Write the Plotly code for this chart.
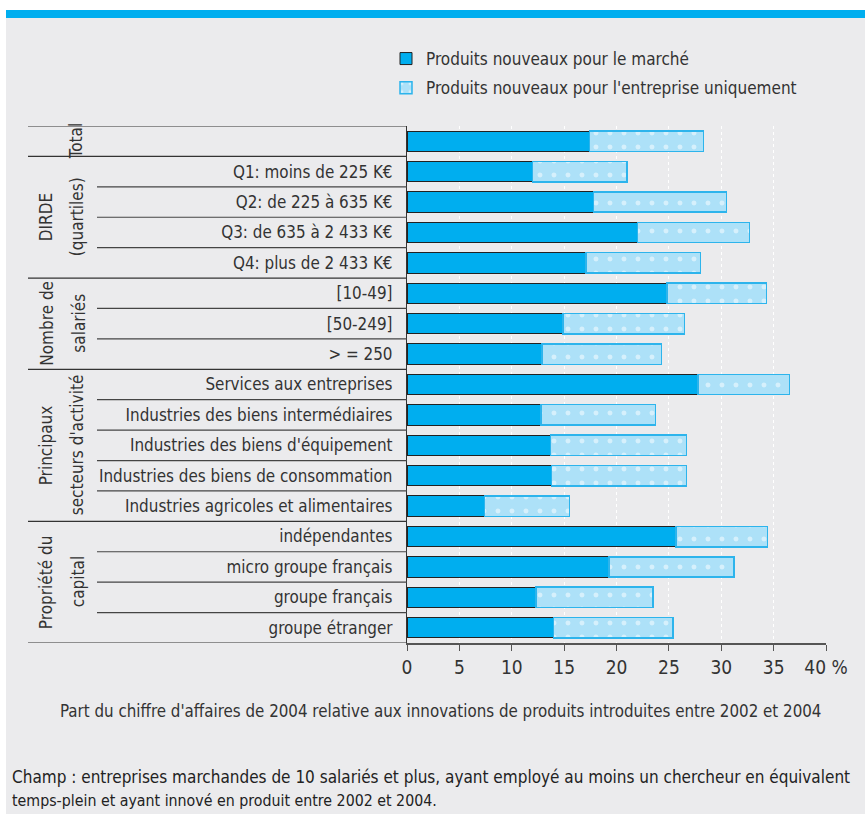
import plotly.graph_objects as go

categories = [
    "", "Q1: moins de 225 K€", "Q2: de 225 à 635 K€", "Q3: de 635 à 2 433 K€",
    "Q4: plus de 2 433 K€", "[10-49]", "[50-249]", "> = 250",
    "Services aux entreprises", "Industries des biens intermédiaires",
    "Industries des biens d'équipement", "Industries des biens de consommation",
    "Industries agricoles et alimentaires", "indépendantes",
    "micro groupe français", "groupe français", "groupe étranger",
]
cat_keys = ["Total"] + categories[1:]
marche = [17.4, 12.0, 17.8, 22.0, 17.1, 24.8, 14.9, 12.9, 27.8, 12.8, 13.7, 13.8, 7.4, 25.7, 19.3, 12.3, 14.0]
total = [28.3, 21.0, 30.5, 32.7, 28.0, 34.3, 26.5, 24.3, 36.5, 23.7, 26.7, 26.7, 15.5, 34.4, 31.2, 23.5, 25.4]
entreprise = [round(t - m, 2) for t, m in zip(total, marche)]

# (text line, first row, last row, x pixel of line centre)
group_lines = [
    ("Total", 0, 0, 76),
    ("DIRDE", 1, 4, 46),
    ("(quartiles)", 1, 4, 77),
    ("Nombre de", 5, 7, 47),
    ("salariés", 5, 7, 79),
    ("Principaux", 8, 12, 46),
    ("secteurs d'activité", 8, 12, 77),
    ("Propriété du", 13, 16, 46),
    ("capital", 13, 16, 78),
]
x_ticks = [0, 5, 10, 15, 20, 25, 30, 35, 40]
x_ticktext = ["0", "5", "10", "15", "20", "25", "30", "35", "40 %"]

FONT = "Liberation Sans Narrow, DejaVu Sans Condensed, Arial Narrow, sans-serif"
BG = "#EBEBED"
TXT = "#333333"

W, H = 865, 814
L, R, T, B = 407, 39, 126, 171
PW, PH = W - L - R, H - T - B

def px_x(x):
    return (x - L) / PW

def px_y(y):
    return (H - B - y) / PH

fig = go.Figure()
fig.add_trace(go.Bar(
    y=cat_keys, x=marche, orientation="h", name="Produits nouveaux pour le marché",
    marker=dict(color="#00AEEF", line=dict(color="#222222", width=1)),
    legendgroup="a", width=0.67,
))
fig.add_trace(go.Bar(
    y=cat_keys, x=entreprise, orientation="h", name="Produits nouveaux pour l'entreprise uniquement",
    marker=dict(color="#ADE1F8", line=dict(color="#2DB4EC", width=1.5),
                pattern=dict(shape=".", fgcolor="white", bgcolor="#ADE1F8", size=14, solidity=0.1)),
    legendgroup="b", width=0.67,
))

shapes = []
shapes.append(dict(type="rect", xref="paper", yref="paper", x0=px_x(0), x1=px_x(W), y0=px_y(0), y1=px_y(10),
                   fillcolor="white", line_width=0, layer="below"))
shapes.append(dict(type="rect", xref="paper", yref="paper", x0=px_x(0), x1=px_x(6), y0=px_y(0), y1=px_y(H),
                   fillcolor="white", line_width=0, layer="below"))
shapes.append(dict(type="rect", xref="paper", yref="paper", x0=px_x(6), x1=px_x(W), y0=px_y(10), y1=px_y(18),
                   fillcolor="#00AEEF", line_width=0, layer="below"))

for yb in [-0.5, 0.5, 4.5, 7.5, 12.5, 16.5]:
    shapes.append(dict(type="line", xref="paper", yref="y", x0=px_x(28), x1=0, y0=yb, y1=yb,
                       line=dict(color="#333333", width=1.2)))
for yb in [1.5, 2.5, 3.5, 5.5, 6.5, 8.5, 9.5, 10.5, 11.5, 13.5, 14.5, 15.5]:
    shapes.append(dict(type="line", xref="paper", yref="y", x0=px_x(97), x1=0, y0=yb, y1=yb,
                       line=dict(color="#444444", width=1.2)))

annotations = []
for label, a, b, xc in group_lines:
    annotations.append(dict(text=label, xref="paper", yref="y", x=px_x(xc), y=(a + b) / 2,
                            textangle=-90, showarrow=False, xanchor="center", yanchor="middle",
                            font=dict(family=FONT, size=17, color=TXT)))
annotations.append(dict(text="Part du chiffre d'affaires de 2004 relative aux innovations de produits introduites entre 2002 et 2004",
                        xref="paper", yref="paper", x=px_x(440), y=px_y(711), showarrow=False,
                        xanchor="center", yanchor="middle", font=dict(family=FONT, size=16.8, color=TXT)))
annotations.append(dict(text="Champ : entreprises marchandes de 10 salariés et plus, ayant employé au moins un chercheur en équivalent",
                        xref="paper", yref="paper", x=px_x(10), y=px_y(777), showarrow=False,
                        xanchor="left", yanchor="middle", font=dict(family=FONT, size=17, color="#222222")))
annotations.append(dict(text="temps-plein et ayant innové en produit entre 2002 et 2004.",
                        xref="paper", yref="paper", x=px_x(10), y=px_y(800), showarrow=False,
                        xanchor="left", yanchor="middle", font=dict(family=FONT, size=15.8, color="#222222")))

fig.update_layout(
    width=W, height=H, barmode="stack",
    margin=dict(l=L, r=R, t=T, b=B, pad=0),
    paper_bgcolor=BG, plot_bgcolor=BG,
    font=dict(family=FONT, size=17, color=TXT),
    showlegend=True,
    legend=dict(x=px_x(386), y=px_y(41), xanchor="left", yanchor="top", bgcolor="rgba(0,0,0,0)",
                font=dict(family=FONT, size=17, color=TXT), tracegroupgap=4, traceorder="grouped"),
    shapes=shapes, annotations=annotations,
    bargap=0.33,
)
fig.update_xaxes(range=[0, 40], tickvals=x_ticks, ticktext=x_ticktext, ticks="outside", ticklen=6,
                 tickcolor="#555555", showline=True, linecolor="#555555", linewidth=1.5,
                 showgrid=True, gridcolor="white", griddash="dot", gridwidth=1, zeroline=False,
                 tickfont=dict(family=FONT, size=19, color=TXT), fixedrange=True)
fig.update_yaxes(type="category", categoryorder="array", categoryarray=cat_keys,
                 tickvals=cat_keys, ticktext=categories, range=[16.5, -0.5],
                 showline=True, linecolor="#333333", linewidth=1.2, ticks="", showgrid=False,
                 ticklabelstandoff=10, tickfont=dict(family=FONT, size=16.9, color=TXT), fixedrange=True)

fig.write_html("out.html")
